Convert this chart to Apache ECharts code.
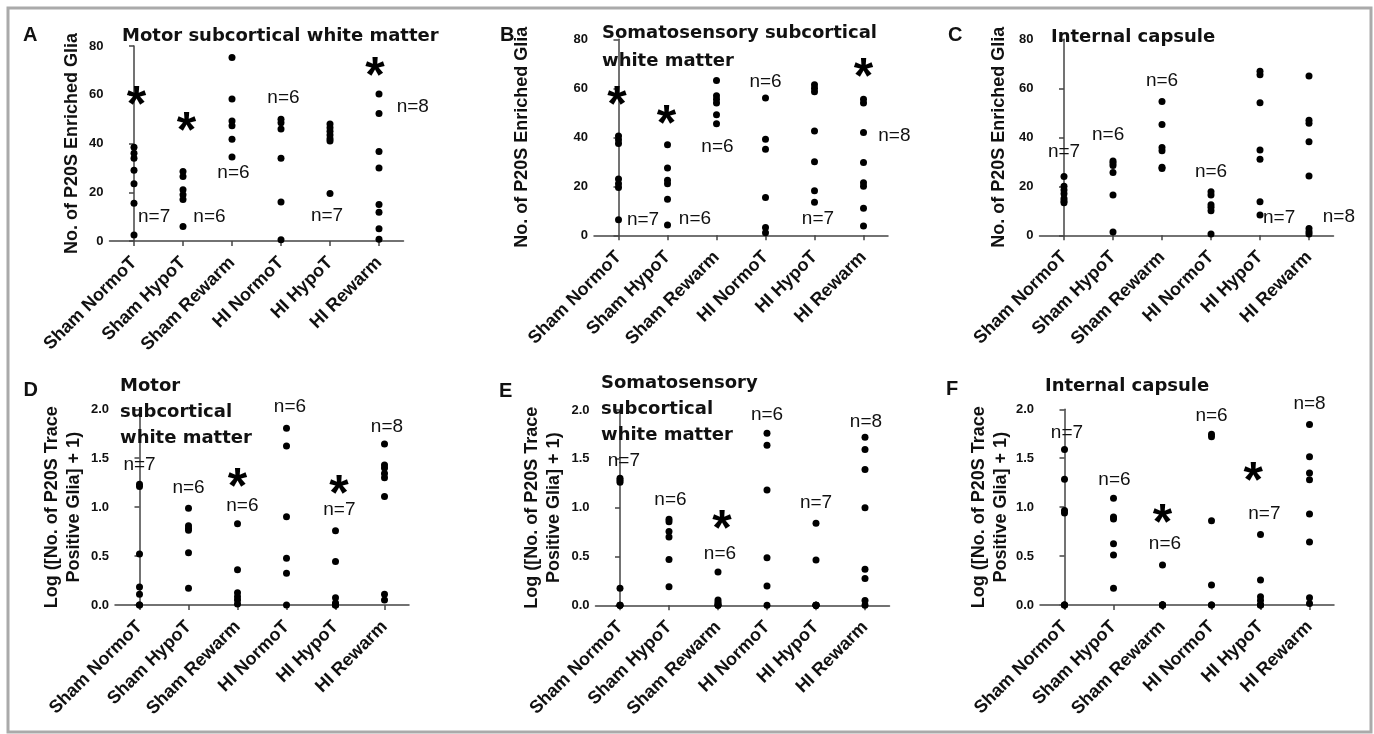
<!DOCTYPE html>
<html><head><meta charset="utf-8">
<script src="https://cdn.jsdelivr.net/npm/echarts@6/dist/echarts.min.js"></script>
<style>html,body{margin:0;padding:0;background:#fff}#c{width:1374px;height:734px}</style>
</head><body><div id="c"></div>
<script>
const categories = ['Sham NormoT','Sham HypoT','Sham Rewarm','HI NormoT','HI HypoT','HI Rewarm'];
const countTicks = [0,20,40,60,80];
const logTicks = [0,0.5,1.0,1.5,2.0];

// Panel A
const motorCount = [
  [38.5,36,34,29,23.5,15.5,2.5],
  [28.5,26.5,21,19,17,6],
  [75.3,58.3,49.2,47.3,41.7,34.5],
  [50,48.5,46,34,16,0.5],
  [48,46.5,45,43.5,42,41,19.5],
  [60.3,52.3,36.7,30,15,11.8,5,0.7]
];
const motorCountN = [[0.41,9.8,'n=7'],[1.54,9.8,'n=6'],[2.03,28.1,'n=6'],[3.05,58.7,'n=6'],[3.94,10.5,'n=7'],[5.69,54.9,'n=8']];
const motorCountStars = [[0.05,59.4],[1.07,48.9],[4.92,71.6]];

// Panel B
const somatoCount = [
  [40.5,39,37.5,23,21,19.5,6.3],
  [37,27.5,22.5,21,14.7,4.2],
  [63.2,57,55.5,54,49.2,45.5],
  [56,39.2,35.1,15.4,3.2,1],
  [61.5,60,58.6,42.6,30,18.2,13.5],
  [55.5,54,42,29.7,21.5,20,11,3.8]
];
const somatoCountN = [[0.5,6.3,'n=7'],[1.56,6.9,'n=6'],[2.02,36.2,'n=6'],[3.0,62.7,'n=6'],[4.07,6.9,'n=7'],[5.63,40.5,'n=8']];
const somatoCountStars = [[-0.03,56.9],[0.98,49.1],[5,68.2]];

// Panel C
const capsuleCount = [
  [24,20,18.5,17,15,14,13.3],
  [30.3,29.5,28.5,25.6,16.5,1.3],
  [54.6,45.2,35.8,34.5,27.8,27.3],
  [17.8,16.5,12.5,11.5,10,0.5],
  [67,65.5,54.1,34.8,31,13.7,8.3],
  [65,47,45.7,38.2,24.2,2.8,1.5,0.5]
];
const capsuleCountN = [[0,34.1,'n=7'],[0.9,41,'n=6'],[2,63.1,'n=6'],[3,26,'n=6'],[4.39,7.3,'n=7'],[5.61,7.6,'n=8']];
const capsuleCountStars = [];

// Panel D
const motorLog = [
  [1.235,1.21,0.52,0.185,0.11,0,0],
  [0.99,0.81,0.785,0.765,0.535,0.17],
  [0.83,0.36,0.125,0.085,0.05,0.01],
  [1.806,1.625,0.903,0.477,0.324,0],
  [0.76,0.445,0.075,0.02,0,0,0],
  [1.645,1.43,1.4,1.345,1.3,1.11,0.11,0.05]
];
const motorLogN = [[0,1.431,'n=7'],[1,1.2,'n=6'],[2.1,1.012,'n=6'],[3.07,2.027,'n=6'],[4.08,0.978,'n=7'],[5.05,1.823,'n=8']];
const motorLogStars = [[2,1.305],[4.07,1.227]];

// Panel E
const somatoLog = [
  [1.3,1.28,1.26,0.175,0,0,0],
  [0.88,0.855,0.755,0.7,0.47,0.19],
  [0.34,0.055,0.03,0.01,0,0],
  [1.761,1.638,1.181,0.488,0.198,0],
  [0.84,0.465,0,0,0,0,0],
  [1.72,1.595,1.39,1.0,0.37,0.275,0.05,0]
];
const somatoLogN = [[0.08,1.485,'n=7'],[1.03,1.082,'n=6'],[2.04,0.532,'n=6'],[3,1.949,'n=6'],[4,1.051,'n=7'],[5.02,1.877,'n=8']];
const somatoLogStars = [[2.08,0.874]];

// Panel F
const capsuleLog = [
  [1.59,1.285,0.965,0.94,0,0,0],
  [1.09,0.9,0.88,0.625,0.51,0.17],
  [0.41,0,0,0,0,0],
  [1.745,1.72,0.86,0.205,0,0],
  [0.72,0.255,0.085,0.045,0,0,0],
  [1.845,1.515,1.35,1.28,0.93,0.645,0.075,0.015]
];
const capsuleLogN = [[0.05,1.761,'n=7'],[1.02,1.278,'n=6'],[2.05,0.623,'n=6'],[3,1.932,'n=6'],[4.08,0.93,'n=7'],[5,2.061,'n=8']];
const capsuleLogStars = [[2,0.937],[3.85,1.363]];

const countName = 'No. of P20S Enriched Glia';
const logName = 'Log ([No. of P20S Trace\nPositive Glia] + 1)';

const panels = [
  {letter:'A', title:'Motor subcortical white matter', values:motorCount, n:motorCountN, stars:motorCountStars, ticks:countTicks, yName:countName, dec:0,
   grid:{left:109.5, top:46, height:195}, gap:26, tp:{left:122, top:26.7, lh:20}, lp:{left:23, top:25.5}},
  {letter:'B', title:'Somatosensory subcortical\nwhite matter', values:somatoCount, n:somatoCountN, stars:somatoCountStars, ticks:countTicks, yName:countName, dec:0,
   grid:{left:594, top:39.3, height:196}, gap:61, tp:{left:602, top:19.3, lh:28}, lp:{left:500, top:25}},
  {letter:'C', title:'Internal capsule', values:capsuleCount, n:capsuleCountN, stars:capsuleCountStars, ticks:countTicks, yName:countName, dec:0,
   grid:{left:1039.5, top:39.3, height:196}, gap:29, tp:{left:1051, top:27.3, lh:20}, lp:{left:948, top:25}},
  {letter:'D', title:'Motor\nsubcortical\nwhite matter', values:motorLog, n:motorLogN, stars:motorLogStars, ticks:logTicks, yName:logName, dec:1,
   grid:{left:115, top:409.3, height:195.7}, gap:30, tp:{left:120, top:373, lh:26}, lp:{left:23.5, top:380}},
  {letter:'E', title:'Somatosensory\nsubcortical\nwhite matter', values:somatoLog, n:somatoLogN, stars:somatoLogStars, ticks:logTicks, yName:logName, dec:1,
   grid:{left:595.5, top:410, height:195.3}, gap:30, tp:{left:601, top:370.3, lh:26}, lp:{left:499, top:381.5}},
  {letter:'F', title:'Internal capsule', values:capsuleLog, n:capsuleLogN, stars:capsuleLogStars, ticks:logTicks, yName:logName, dec:1,
   grid:{left:1040, top:409.3, height:195.7}, gap:20, tp:{left:1045, top:376, lh:20}, lp:{left:946, top:379.5}}
];

const AX = '#444';
const TXT = '#111';
const FONT = 'Liberation Sans, Arial, sans-serif';

const grid = [], xAxis = [], yAxis = [], series = [], title = [];
panels.forEach((p, i) => {
  grid.push({left:p.grid.left, top:p.grid.top, width:294, height:p.grid.height, containLabel:false});
  xAxis.push({
    type:'category', gridIndex:i, data:categories, boundaryGap:true,
    axisLine:{show:true, lineStyle:{color:AX, width:1.5}},
    axisTick:{show:true, alignWithLabel:true, length:5, interval:0, lineStyle:{color:AX, width:1.5}},
    axisLabel:{rotate:45, interval:0, margin:19, fontSize:18, fontWeight:'bold', color:TXT, fontFamily:FONT},
    splitLine:{show:false}
  });
  yAxis.push({
    type:'value', gridIndex:i, min:p.ticks[0], max:p.ticks[p.ticks.length-1], interval:p.ticks[1]-p.ticks[0],
    axisLine:{show:true, lineStyle:{color:AX, width:1.5}},
    axisTick:{show:true, length:5, lineStyle:{color:AX, width:1.5}},
    axisLabel:{margin:6, fontSize:13, fontWeight:'bold', color:TXT, fontFamily:FONT, formatter:v => v.toFixed(p.dec)},
    splitLine:{show:false},
    name:p.yName, nameLocation:'middle', nameGap:p.gap,
    nameTextStyle:{fontSize:18, fontWeight:'bold', color:TXT, fontFamily:FONT, lineHeight:22}
  });
  title.push({text:p.title, left:p.tp.left, top:p.tp.top, padding:0,
    textStyle:{fontFamily:'DejaVu Sans', fontSize:18, fontWeight:'bold', color:TXT, lineHeight:p.tp.lh}});
  title.push({text:p.letter, left:p.lp.left, top:p.lp.top, padding:0,
    textStyle:{fontFamily:FONT, fontSize:20, fontWeight:'bold', color:TXT, lineHeight:20}});
});
// hidden value axes for annotations (same band layout as categories)
panels.forEach((p, i) => {
  xAxis.push({type:'value', gridIndex:i, min:-0.5, max:5.5, show:false, splitLine:{show:false}});
});
panels.forEach((p, i) => {
  const pts = [];
  p.values.forEach((arr, c) => arr.forEach(v => pts.push([c, v])));
  series.push({type:'scatter', xAxisIndex:i, yAxisIndex:i, data:pts, symbolSize:7,
    itemStyle:{color:'#000', opacity:1}, clip:false, silent:true, z:3});
  series.push({type:'scatter', xAxisIndex:6+i, yAxisIndex:i, data:p.n.map(d => [d[0], d[1], d[2]]),
    symbolSize:0, itemStyle:{color:'#000', opacity:1}, clip:false, silent:true,
    label:{show:true, position:'inside', formatter:q => q.data[2], fontSize:19, color:TXT, fontFamily:FONT, opacity:1}});
  series.push({type:'scatter', xAxisIndex:6+i, yAxisIndex:i, data:p.stars.map(d => [d[0], d[1]]),
    symbolSize:0, itemStyle:{color:'#000', opacity:1}, clip:false, silent:true,
    label:{show:true, position:'inside', formatter:'*', fontSize:50, fontWeight:'bold', color:'#000', fontFamily:FONT, offset:[0,11.5], opacity:1}});
});

const chart = echarts.init(document.getElementById('c'), null, {renderer:'canvas'});
chart.setOption({
  animation:false, backgroundColor:'#fff',
  title, grid, xAxis, yAxis, series,
  graphic:[{type:'rect', shape:{x:8, y:8, width:1363, height:724}, style:{fill:'none', stroke:'#aaa', lineWidth:3}, silent:true, z:-1}]
});
</script></body></html>
